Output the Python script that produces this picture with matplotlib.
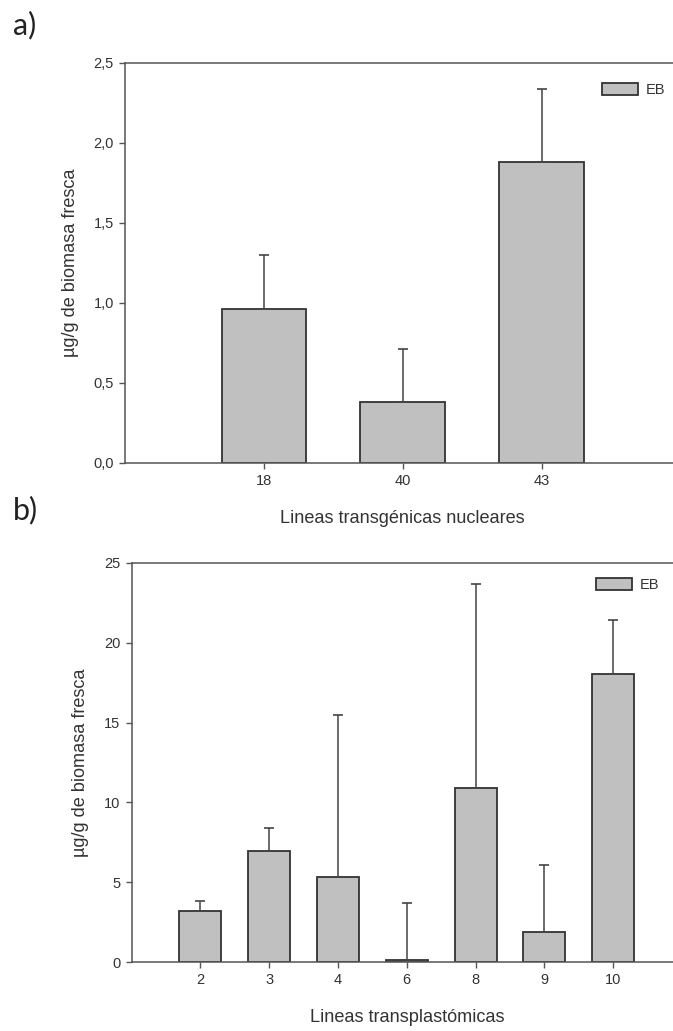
import matplotlib
matplotlib.use("Agg")
import matplotlib.pyplot as plt
import numpy as np

# ---- data ----
lines_a = ["18", "40", "43"]
mean_a = [0.965, 0.383, 1.88]
err_a = [0.335, 0.327, 0.46]

lines_b = ["2", "3", "4", "6", "8", "9", "10"]
mean_b = [3.2, 6.97, 5.35, 0.1, 10.92, 1.88, 18.05]
err_b = [0.64, 1.41, 10.13, 3.6, 12.78, 4.18, 3.35]

yticks_a = [0.0, 0.5, 1.0, 1.5, 2.0, 2.5]
yticklabels_a = ["0,0", "0,5", "1,0", "1,5", "2,0", "2,5"]
yticks_b = [0, 5, 10, 15, 20, 25]

ylabel = "µg/g de biomasa fresca"
xlabel_a = "Lineas transgénicas nucleares"
xlabel_b = "Lineas transplastómicas"
legend_label = "EB"

W, H = 673, 1031
fig = plt.figure(figsize=(W / 100, H / 100), dpi=100)
plt.rcParams['font.family'] = ['Liberation Sans', 'DejaVu Sans']

spine_c = "#555555"
bar_face = "#c0c0c0"
bar_edge = "#333333"
tick_fs = 10.5
lab_fs = 13.1


def px(x0, y_top, x1, y_bot):
    return [x0 / W, 1 - y_bot / H, (x1 - x0) / W, (y_bot - y_top) / H]


def panel(ax, cats, means, errs, ylim, yticks, yticklabels, xlabel, leg_xy, xmax):
    x = np.arange(len(cats))
    ax.bar(x, means, width=0.61, color=bar_face, edgecolor=bar_edge,
           linewidth=1.3, label=legend_label, zorder=2)
    ax.errorbar(x, means, yerr=[np.zeros(len(errs)), errs], fmt='none',
                ecolor="#444444", elinewidth=1.1, capsize=3.8, capthick=1.2, zorder=3)
    ax.set_xlim(-1, xmax)
    ax.set_ylim(*ylim)
    ax.set_xticks(x)
    ax.set_xticklabels(cats, fontsize=tick_fs, color="#333333")
    ax.set_yticks(yticks)
    ax.set_yticklabels(yticklabels, fontsize=tick_fs, color="#333333")
    for s in ["left", "bottom", "top"]:
        ax.spines[s].set_color(spine_c)
        ax.spines[s].set_linewidth(1.1)
    ax.spines["right"].set_visible(False)
    ax.tick_params(direction='out', length=4, width=1.0, color=spine_c, pad=4)
    ax.set_ylabel(ylabel, fontsize=lab_fs, color="#333333", labelpad=10.5)
    ax.set_xlabel(xlabel, fontsize=lab_fs, color="#333333", labelpad=16)
    ax.legend(loc='upper left', bbox_to_anchor=leg_xy, bbox_transform=fig.transFigure,
              frameon=False, borderpad=0, borderaxespad=0, handlelength=2.5,
              handleheight=0.85, handletextpad=0.5, fontsize=10.5, labelcolor="#333333")


ax1 = fig.add_axes(px(125, 63, 680.5, 463))
panel(ax1, lines_a, mean_a, err_a, (0, 2.5), yticks_a, yticklabels_a, xlabel_a,
      (602 / W, 1 - 83 / H), 3)

ax2 = fig.add_axes(px(131.5, 563, 682, 962))
panel(ax2, lines_b, mean_b, err_b, (0, 25), yticks_b, [str(v) for v in yticks_b], xlabel_b,
      (596 / W, 1 - 578 / H), 7)

fig.text(13 / W, 1 - 11 / H, "a)", fontsize=22, family=['Lato', 'DejaVu Sans'], va='top', ha='left', color="#222222")
fig.text(13 / W, 1 - 496 / H, "b)", fontsize=22, family=['Lato', 'DejaVu Sans'], va='top', ha='left', color="#222222")

fig.savefig("out.png", dpi=100)
